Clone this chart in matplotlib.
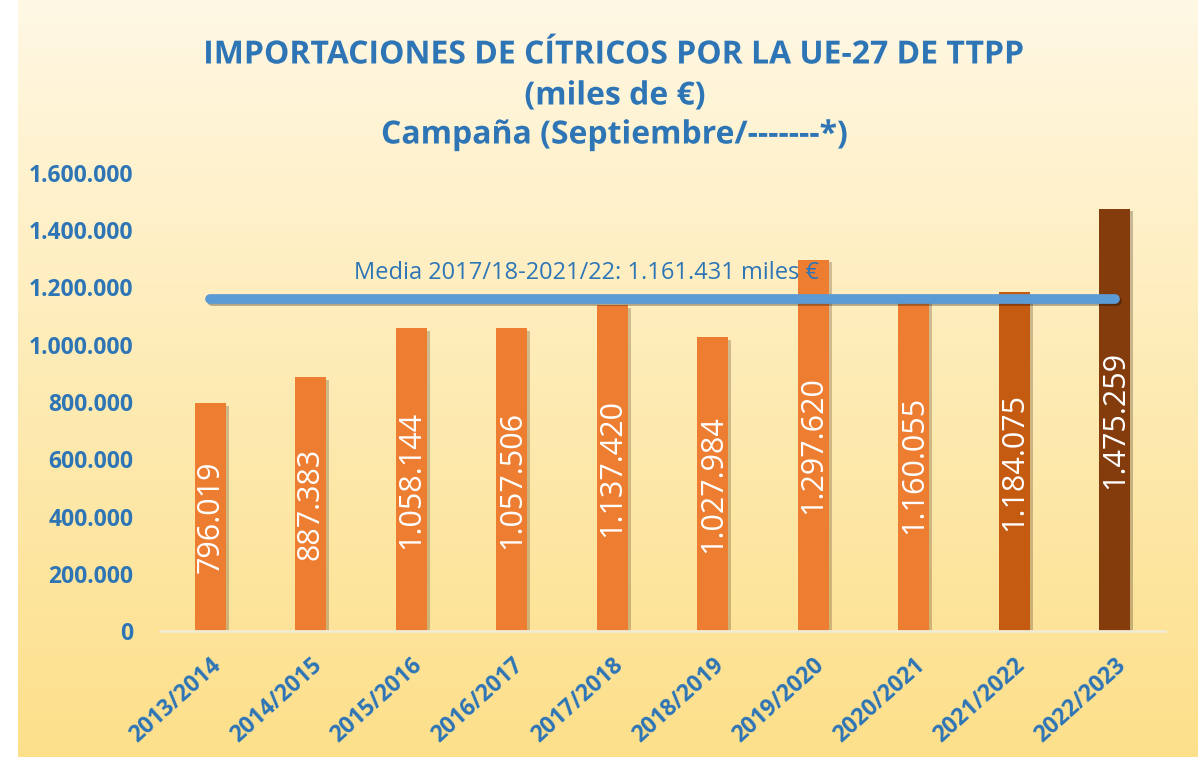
import numpy as np
import matplotlib.pyplot as plt
import matplotlib.patheffects as pe

# Campaign data (miles de €)
campaigns = ["2013/2014", "2014/2015", "2015/2016", "2016/2017", "2017/2018",
             "2018/2019", "2019/2020", "2020/2021", "2021/2022", "2022/2023"]
imports = [796019, 887383, 1058144, 1057506, 1137420,
           1027984, 1297620, 1160055, 1184075, 1475259]
bar_colors = ["#ED7D31"] * 8 + ["#C55A11", "#843C0C"]
mean_value = 1161431  # media 2017/18-2021/22
yticks = [0, 200000, 400000, 600000, 800000, 1000000, 1200000, 1400000, 1600000]

blue = "#2E75B6"

def dotted(v):
    return f"{v:,}".replace(",", ".")

fig = plt.figure(figsize=(11.98, 7.57), dpi=100)

# background gradient
bg = fig.add_axes([18 / 1198, 0, 1 - 18 / 1198, 1])
grad = np.linspace(0, 1, 256).reshape(-1, 1)
top = np.array([1.0, 0.973, 0.900])
bottom = np.array([0.992, 0.878, 0.545])
img = top + (bottom - top) * grad[..., None] ** 0.9
bg.imshow(img, aspect="auto", extent=[0, 1, 0, 1])
bg.axis("off")

ax = fig.add_axes([160 / 1198, 1 - 631 / 757, 1005 / 1198, 458 / 757])
ax.patch.set_alpha(0)
x = np.arange(len(campaigns))
bars = ax.bar(x, imports, width=0.31, color=bar_colors, zorder=2)
for b in bars:
    b.set_path_effects([pe.SimplePatchShadow(offset=(2, -2), alpha=0.25), pe.Normal()])

# value labels inside the bars
for xi, v in zip(x, imports):
    ax.text(xi, v / 2, dotted(v), rotation=90, ha="center", va="center",
            color="white", fontsize=22, family="Open Sans", fontweight="normal", zorder=3)

# mean line
ax.plot([x[0], x[-1]], [mean_value, mean_value], color="#5B9BD5", lw=7,
        solid_capstyle="round", zorder=4,
        path_effects=[pe.SimpleLineShadow(offset=(1.5, -2), alpha=0.3), pe.Normal()])
ax.text(3.74, mean_value + 90000, "Media 2017/18-2021/22: " + dotted(mean_value) + " miles €",
        ha="center", va="center", color=blue, fontsize=17, family="Open Sans", zorder=5)

ax.set_xlim(-0.5, len(campaigns) - 0.5)
ax.set_ylim(0, 1600000)
ax.set_yticks(yticks)
ax.set_yticklabels([dotted(t) for t in yticks], color=blue, fontsize=16.5,
                   fontweight="bold", family="Open Sans")
ax.set_xticks(x)
ax.set_xticklabels(campaigns, rotation=42, ha="right", rotation_mode="anchor",
                   color=blue, fontsize=16.5, fontweight="bold", family="Open Sans")
ax.tick_params(axis="both", length=0)
ax.tick_params(axis="y", pad=19)
ax.tick_params(axis="x", pad=16)
for s in ["top", "right", "left"]:
    ax.spines[s].set_visible(False)
ax.spines["bottom"].set_color("#F2EBD3")
ax.spines["bottom"].set_linewidth(2)

# title
title_lines = ["IMPORTACIONES DE CÍTRICOS POR LA UE-27 DE TTPP",
               "(miles de €)",
               "Campaña (Septiembre/-------*)"]
for yy, line in zip([55, 96, 135], title_lines):
    fig.text(615 / 1198, 1 - yy / 757, line, ha="center", va="center", color=blue,
             fontsize=23, fontweight="bold", family="Open Sans",
             path_effects=[pe.SimpleLineShadow(offset=(1.5, -1.5), alpha=0.3), pe.Normal()])

fig.savefig("out.png", dpi=100)
